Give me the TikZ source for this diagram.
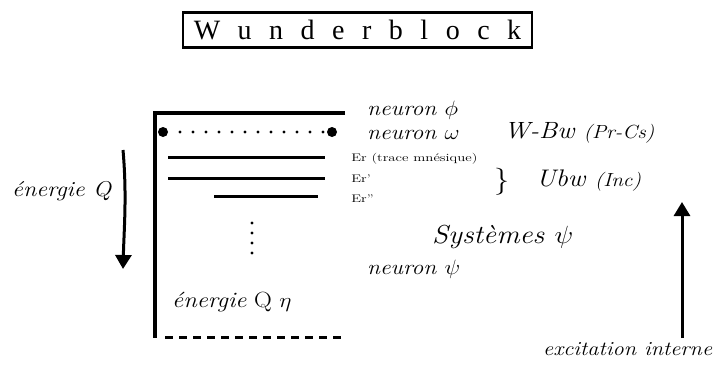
\documentclass[tikz,border=0pt]{standalone}
\usepackage{fontspec}
\usepackage{tikz}
\usetikzlibrary{arrows.meta, positioning}

\newfontfamily\titlefont{Liberation Serif}
\newcommand\ls{\hspace{17.5pt}}
\newcommand\fs[1]{\fontsize{#1}{#1}\selectfont}

\begin{document}
\begin{tikzpicture}[
		x=1pt, y=-1pt,
		txt/.style={inner sep=0pt, anchor=base west, xscale=1.12, transform shape},
		bar/.style={line width=3pt},
		arrow/.style={-{Triangle[length=14pt, width=16pt]}, line width=3pt}
	]
	
		% Frame
		\useasboundingbox (0,0) rectangle (717,364);
		
		% Title
		\node[draw, line width=2.5pt, minimum width=349pt, minimum height=35pt, inner sep=0pt,
			font=\titlefont\fs{28}] (title) at (357.5,30) {W\ls u\ls n\ls d\ls e\ls r\ls b\ls l\ls o\ls c\ls k};
		
		% Wunderblock
		\draw[line width=4pt] (345,113) -| (155,338);
		\fill (163,132) circle (5pt) (332,132) circle (5pt);
		\foreach \i in {0,...,11} \fill (180+13*\i,132) circle (1.6pt);
		\draw[bar] (168,157) -- (325,157);
		\draw[bar] (168,178) -- (325,178);
		\draw[bar] (214,196) -- (318,196);
		\foreach \i in {0,...,3} \fill (252,223+10*\i) circle (1.6pt);
		\draw[bar, dash pattern=on 8pt off 6pt] (165,337) -- (345,337);
		
		% Labels
		\node[txt, font=\fs{21}\itshape] (phi) at (367,115) {neuron $\phi$};
		\node[txt, font=\fs{21}\itshape] (omega) at (367,139) {neuron $\omega$};
		\node[txt, font=\fs{23.5}\itshape] (wbw) at (504,138) {W-Bw {\fs{19}(Pr-Cs)}};
		\node[txt, xscale=1.2, font=\fs{11}] (er) at (351,161) {Er (trace mnésique)};
		\node[txt, xscale=1.2, font=\fs{11}] (er1) at (351,182) {Er'};
		\node[txt, xscale=1.2, font=\fs{11}] (er2) at (351,202) {Er''};
		\node[txt, font=\fs{27}] (brace) at (494,188) {\}};
		\node[txt, font=\fs{24}\itshape] (ubw) at (536,186) {Ubw {\fs{19}(Inc)}};
		\node[txt, font=\fs{26}\itshape] (psi) at (432,243) {Systèmes $\psi$};
		\node[txt, font=\fs{21}\itshape] (npsi) at (367,274) {neuron $\psi$};
		\node[txt, font=\fs{22}] (eqeta) at (172,307) {\textit{énergie} Q $\eta$};
		\node[txt, font=\fs{21.5}\itshape] (eq) at (12,196) {énergie Q};
		\node[txt, font=\fs{20}\itshape] (exc) at (543,355) {excitation interne};
		
		% Arrows
		\coordinate (qtop) at (123,150);
		\coordinate (qbot) at (123,269);
		\coordinate (etop) at (682,202);
		\coordinate (ebot) at (682,338);
		\draw[arrow] (qtop) .. controls (127,195) and (124,230) .. (qbot);
		\draw[arrow] (ebot) -- (etop);
		
	\end{tikzpicture}
\end{document}
